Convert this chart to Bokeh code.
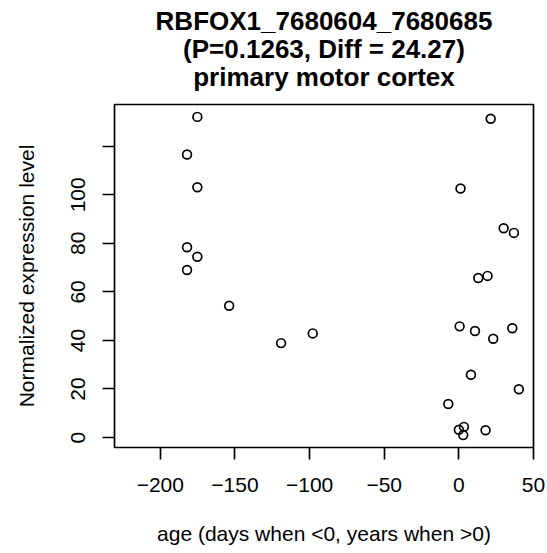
from bokeh.plotting import figure
from bokeh.models import ColumnDataSource, FixedTicker, Range1d, Title
from bokeh.embed import file_html
from bokeh.resources import INLINE

# ---- data ----
age = [-175.2, -182.1, -175.2, -182.1, -175.2, -182.1, -153.9, -119.1, -97.9,
       21.3, 1.1, 30.0, 36.9, 13.0, 19.2, 0.5, 10.8, 23.0, 35.8,
       8.1, 40.2, -7.1, 0.0, 3.4, 2.9, 17.9]
expr = [132.1, 116.6, 103.1, 78.4, 74.5, 69.0, 54.3, 38.9, 42.9,
        131.3, 102.6, 86.2, 84.3, 65.7, 66.6, 45.8, 43.9, 40.7, 45.0,
        25.9, 19.9, 13.8, 3.2, 4.4, 1.0, 3.0]

x_ticks = [-200, -150, -100, -50, 0, 50]
x_tick_labels = ["\u2212200", "\u2212150", "\u2212100", "\u221250", "0", "50"]
y_ticks = [0, 20, 40, 60, 80, 100, 120]
y_tick_labels = ["0", "20", "40", "60", "80", "100", ""]

title_lines = ["RBFOX1_7680604_7680685", "(P=0.1263, Diff = 24.27)", "primary motor cortex"]
x_label = "age (days when <0, years when >0)"
y_label = "Normalized expression level"

FONT = "Liberation Sans"

p = figure(width=547, height=553, output_backend="svg", toolbar_location=None,
           x_range=Range1d(-230.7, 50.0), y_range=Range1d(-4.1, 137.2),
           min_border_left=114, min_border_right=14, min_border_top=104, min_border_bottom=106,
           title=None)

# spacer between the frame and the title block
p.add_layout(Title(text=" ", text_font_size="1px", standoff=10.7), "above")
# title lines, added from the plot outward
for line in reversed(title_lines):
    p.add_layout(Title(text=line, align="center", text_font=FONT, text_font_style="bold",
                       text_font_size="26px", text_color="black", standoff=-3.6), "above")

src = ColumnDataSource(dict(x=age, y=expr))
p.scatter("x", "y", source=src, marker="circle", size=8.8, fill_color=None,
          line_color="black", line_width=1.7)

p.xgrid.visible = False
p.ygrid.visible = False
p.outline_line_color = "black"
p.outline_line_width = 1.7
p.background_fill_color = "white"
p.border_fill_color = "white"

# x axis
xa = p.xaxis[0]
xa.ticker = FixedTicker(ticks=x_ticks)
xa.major_label_overrides = {t: l for t, l in zip(x_ticks, x_tick_labels)}
xa.axis_line_color = None
xa.major_tick_out = 12
xa.major_tick_in = 0
xa.major_tick_line_width = 1.7
xa.major_tick_line_color = "black"
xa.minor_tick_line_color = None
xa.major_label_text_font = FONT
xa.major_label_text_font_size = "21px"
xa.major_label_text_color = "black"
xa.major_label_standoff = 18
xa.axis_label = x_label
xa.axis_label_text_font = FONT
xa.axis_label_text_font_size = "21px"
xa.axis_label_text_font_style = "normal"
xa.axis_label_text_color = "black"
xa.axis_label_standoff = 27

# y axis
ya = p.yaxis[0]
ya.ticker = FixedTicker(ticks=y_ticks)
ya.major_label_overrides = {t: l for t, l in zip(y_ticks, y_tick_labels)}
ya.axis_line_color = None
ya.major_tick_out = 12
ya.major_tick_in = 0
ya.major_tick_line_width = 1.7
ya.major_tick_line_color = "black"
ya.minor_tick_line_color = None
ya.major_label_orientation = "vertical"
ya.major_label_text_font = FONT
ya.major_label_text_font_size = "21px"
ya.major_label_text_color = "black"
ya.major_label_standoff = 17
ya.axis_label = y_label
ya.axis_label_text_font = FONT
ya.axis_label_text_font_size = "21px"
ya.axis_label_text_font_style = "normal"
ya.axis_label_text_color = "black"
ya.axis_label_standoff = 31

open("out.html", "w").write(file_html(p, INLINE))
